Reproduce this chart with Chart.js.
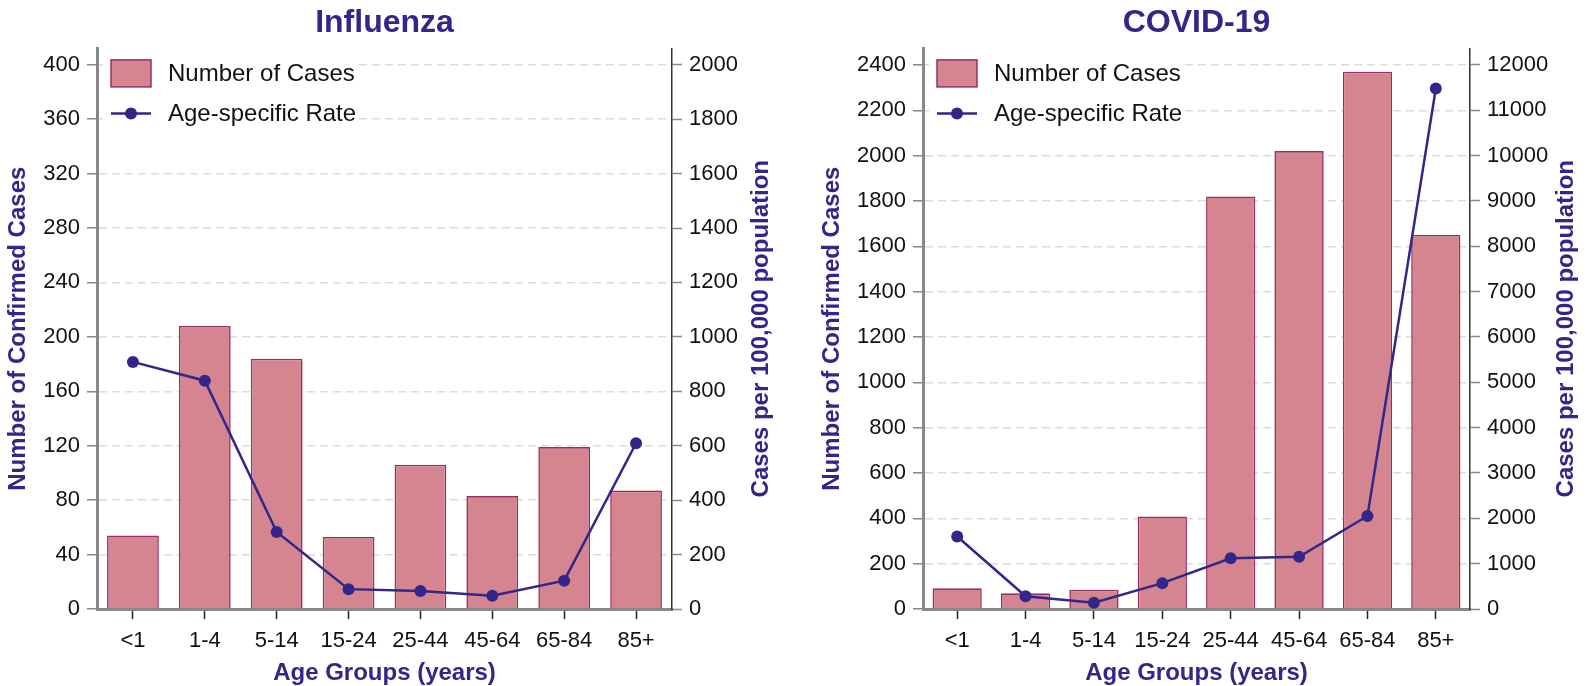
<!DOCTYPE html>
<html>
<head>
<meta charset="utf-8">
<script src="https://cdn.jsdelivr.net/npm/chart.js@4.4.1/dist/chart.umd.min.js"></script>
<style>
  html, body { margin: 0; padding: 0; background: #fff; }
  .panel { position: absolute; top: 0; width: 798px; height: 686px; }
</style>
</head>
<body>
<div class="panel" style="left:0"><canvas id="flu"></canvas></div>
<div class="panel" style="left:798px"><canvas id="covid"></canvas></div>
<script>
// data
var ageGroups = ['<1', '1-4', '5-14', '15-24', '25-44', '45-64', '65-84', '85+'];
var fluCases = [54, 208, 184, 53, 106, 83, 119, 87];
var fluRates = [908, 839, 283, 73, 66, 49, 104, 609];
var covidCases = [91, 69, 85, 408, 1820, 2020, 2370, 1650];
var covidRates = [1600, 280, 140, 570, 1120, 1150, 2050, 11480];

// tick labels
var fluCaseTicks = [0, 40, 80, 120, 160, 200, 240, 280, 320, 360, 400];
var fluRateTicks = [0, 200, 400, 600, 800, 1000, 1200, 1400, 1600, 1800, 2000];
var covidCaseTicks = [0, 200, 400, 600, 800, 1000, 1200, 1400, 1600, 1800, 2000, 2200, 2400];
var covidRateTicks = [0, 1000, 2000, 3000, 4000, 5000, 6000, 7000, 8000, 9000, 10000, 11000, 12000];

var titleColor = '#33268a';
var barFill = '#d4858f';
var barEdge = '#9c2c63';
var lineColor = '#33268a';
var fontFamily = "'Liberation Sans', Arial, sans-serif";

Chart.defaults.font.family = fontFamily;
Chart.defaults.color = '#111';

// right hand axis title reads bottom-to-top in the original
const sideTitle = {
  id: 'sideTitle',
  afterDraw(chart, args, opts) {
    const s = chart.scales.y1;
    const ctx = chart.ctx;
    ctx.save();
    ctx.translate(s.right - opts.offset, (s.top + s.bottom) / 2);
    ctx.rotate(-Math.PI / 2);
    ctx.font = 'bold 24px ' + fontFamily;
    ctx.fillStyle = titleColor;
    ctx.textAlign = 'center';
    ctx.textBaseline = 'middle';
    ctx.fillText(opts.text, 0, 0);
    ctx.restore();
  }
};

// legend sitting in the top-left corner of the plot
const cornerLegend = {
  id: 'cornerLegend',
  afterDraw(chart) {
    const ctx = chart.ctx;
    const a = chart.chartArea;
    const x = a.left + 14, y1 = a.top + 25, y2 = a.top + 65;
    const ds = chart.data.datasets;
    ctx.save();
    ctx.font = '24px ' + fontFamily;
    const w = Math.max(ctx.measureText(ds[0].label).width, ctx.measureText(ds[1].label).width);
    ctx.fillStyle = '#fff';
    ctx.fillRect(a.left + 6, a.top + 4, 40 + 18 + w + 10, 82);
    // bar item
    ctx.fillStyle = barFill;
    ctx.strokeStyle = barEdge;
    ctx.lineWidth = 1.5;
    ctx.fillRect(x, y1 - 13.5, 40, 27);
    ctx.strokeRect(x, y1 - 13.5, 40, 27);
    // line item
    ctx.strokeStyle = lineColor;
    ctx.lineWidth = 2.5;
    ctx.beginPath();
    ctx.moveTo(x, y2);
    ctx.lineTo(x + 40, y2);
    ctx.stroke();
    ctx.fillStyle = lineColor;
    ctx.beginPath();
    ctx.arc(x + 20, y2, 6, 0, Math.PI * 2);
    ctx.fill();
    ctx.fillStyle = '#111';
    ctx.textBaseline = 'middle';
    ctx.fillText(ds[0].label, x + 57, y1 + 1);
    ctx.fillText(ds[1].label, x + 57, y2 + 1);
    ctx.restore();
  }
};

const plain = v => String(v);
const fixedTicks = list => s => { s.ticks = list.map(v => ({ value: v })); };

function makeChart(id, title, cases, rates, caseTicks, rateTicks, leftMax, leftWidth, leftTitlePad, rightTitleOffset) {
  return new Chart(document.getElementById(id), {
    type: 'bar',
    data: {
      labels: ageGroups,
      datasets: [{
        type: 'bar',
        label: 'Number of Cases',
        data: cases,
        yAxisID: 'y',
        backgroundColor: barFill,
        borderColor: barEdge,
        borderWidth: 1.6,
        categoryPercentage: 1,
        barPercentage: 0.72,
        order: 2
      }, {
        type: 'line',
        label: 'Age-specific Rate',
        data: rates,
        yAxisID: 'y1',
        borderColor: lineColor,
        backgroundColor: lineColor,
        borderWidth: 2.5,
        pointRadius: 6,
        pointBackgroundColor: lineColor,
        pointBorderWidth: 0,
        tension: 0,
        order: 1
      }]
    },
    options: {
      responsive: true,
      maintainAspectRatio: false,
      animation: false,
      layout: { padding: 0 },
      plugins: {
        legend: { display: false },
        tooltip: { enabled: false },
        title: {
          display: true,
          fullSize: false,
          text: title,
          color: titleColor,
          font: { size: 32, weight: 'bold' },
          padding: { top: 4, bottom: 6 }
        },
        sideTitle: { text: 'Cases per 100,000 population', offset: rightTitleOffset }
      },
      scales: {
        x: {
          offset: true,
          grid: { display: true, drawOnChartArea: false, offset: false, tickColor: '#222', tickLength: 10, tickWidth: 1.5 },
          border: { color: '#888', width: 3 },
          ticks: { font: { size: 22 }, color: '#111', padding: 9, maxRotation: 0, autoSkip: false },
          title: {
            display: true,
            text: 'Age Groups (years)',
            color: titleColor,
            font: { size: 24, weight: 'bold' },
            padding: { top: 0, bottom: -2 }
          },
          afterFit: s => { s.height = 77; }
        },
        y: {
          position: 'left',
          min: 0,
          max: leftMax,
          grid: { color: '#dcdcdc', lineWidth: 1.5, tickColor: '#888', tickLength: 10, tickWidth: 1.5 },
          border: { color: '#888', width: 3, dash: [8, 5] },
          ticks: { callback: plain, font: { size: 22 }, color: '#111', padding: 7 },
          afterBuildTicks: fixedTicks(caseTicks),
          title: {
            display: true,
            text: 'Number of Confirmed Cases',
            color: titleColor,
            font: { size: 24, weight: 'bold' },
            padding: { top: leftTitlePad, bottom: 0 }
          },
          afterFit: s => { s.width = leftWidth; }
        },
        y1: {
          position: 'right',
          min: 0,
          max: leftMax * 5,
          grid: { drawOnChartArea: false, tickColor: '#888', tickLength: 10, tickWidth: 1.5 },
          border: { color: '#333', width: 1.5 },
          ticks: { callback: plain, font: { size: 22 }, color: '#111', padding: 7 },
          afterBuildTicks: fixedTicks(rateTicks),
          title: { display: false },
          afterFit: s => { s.width = 126; }
        }
      }
    },
    plugins: [sideTitle, cornerLegend]
  });
}

makeChart('flu', 'Influenza', fluCases, fluRates, fluCaseTicks, fluRateTicks, 412, 97, 4, 37);
makeChart('covid', 'COVID-19', covidCases, covidRates, covidCaseTicks, covidRateTicks, 2473, 125, 20, 30);
</script>
</body>
</html>
